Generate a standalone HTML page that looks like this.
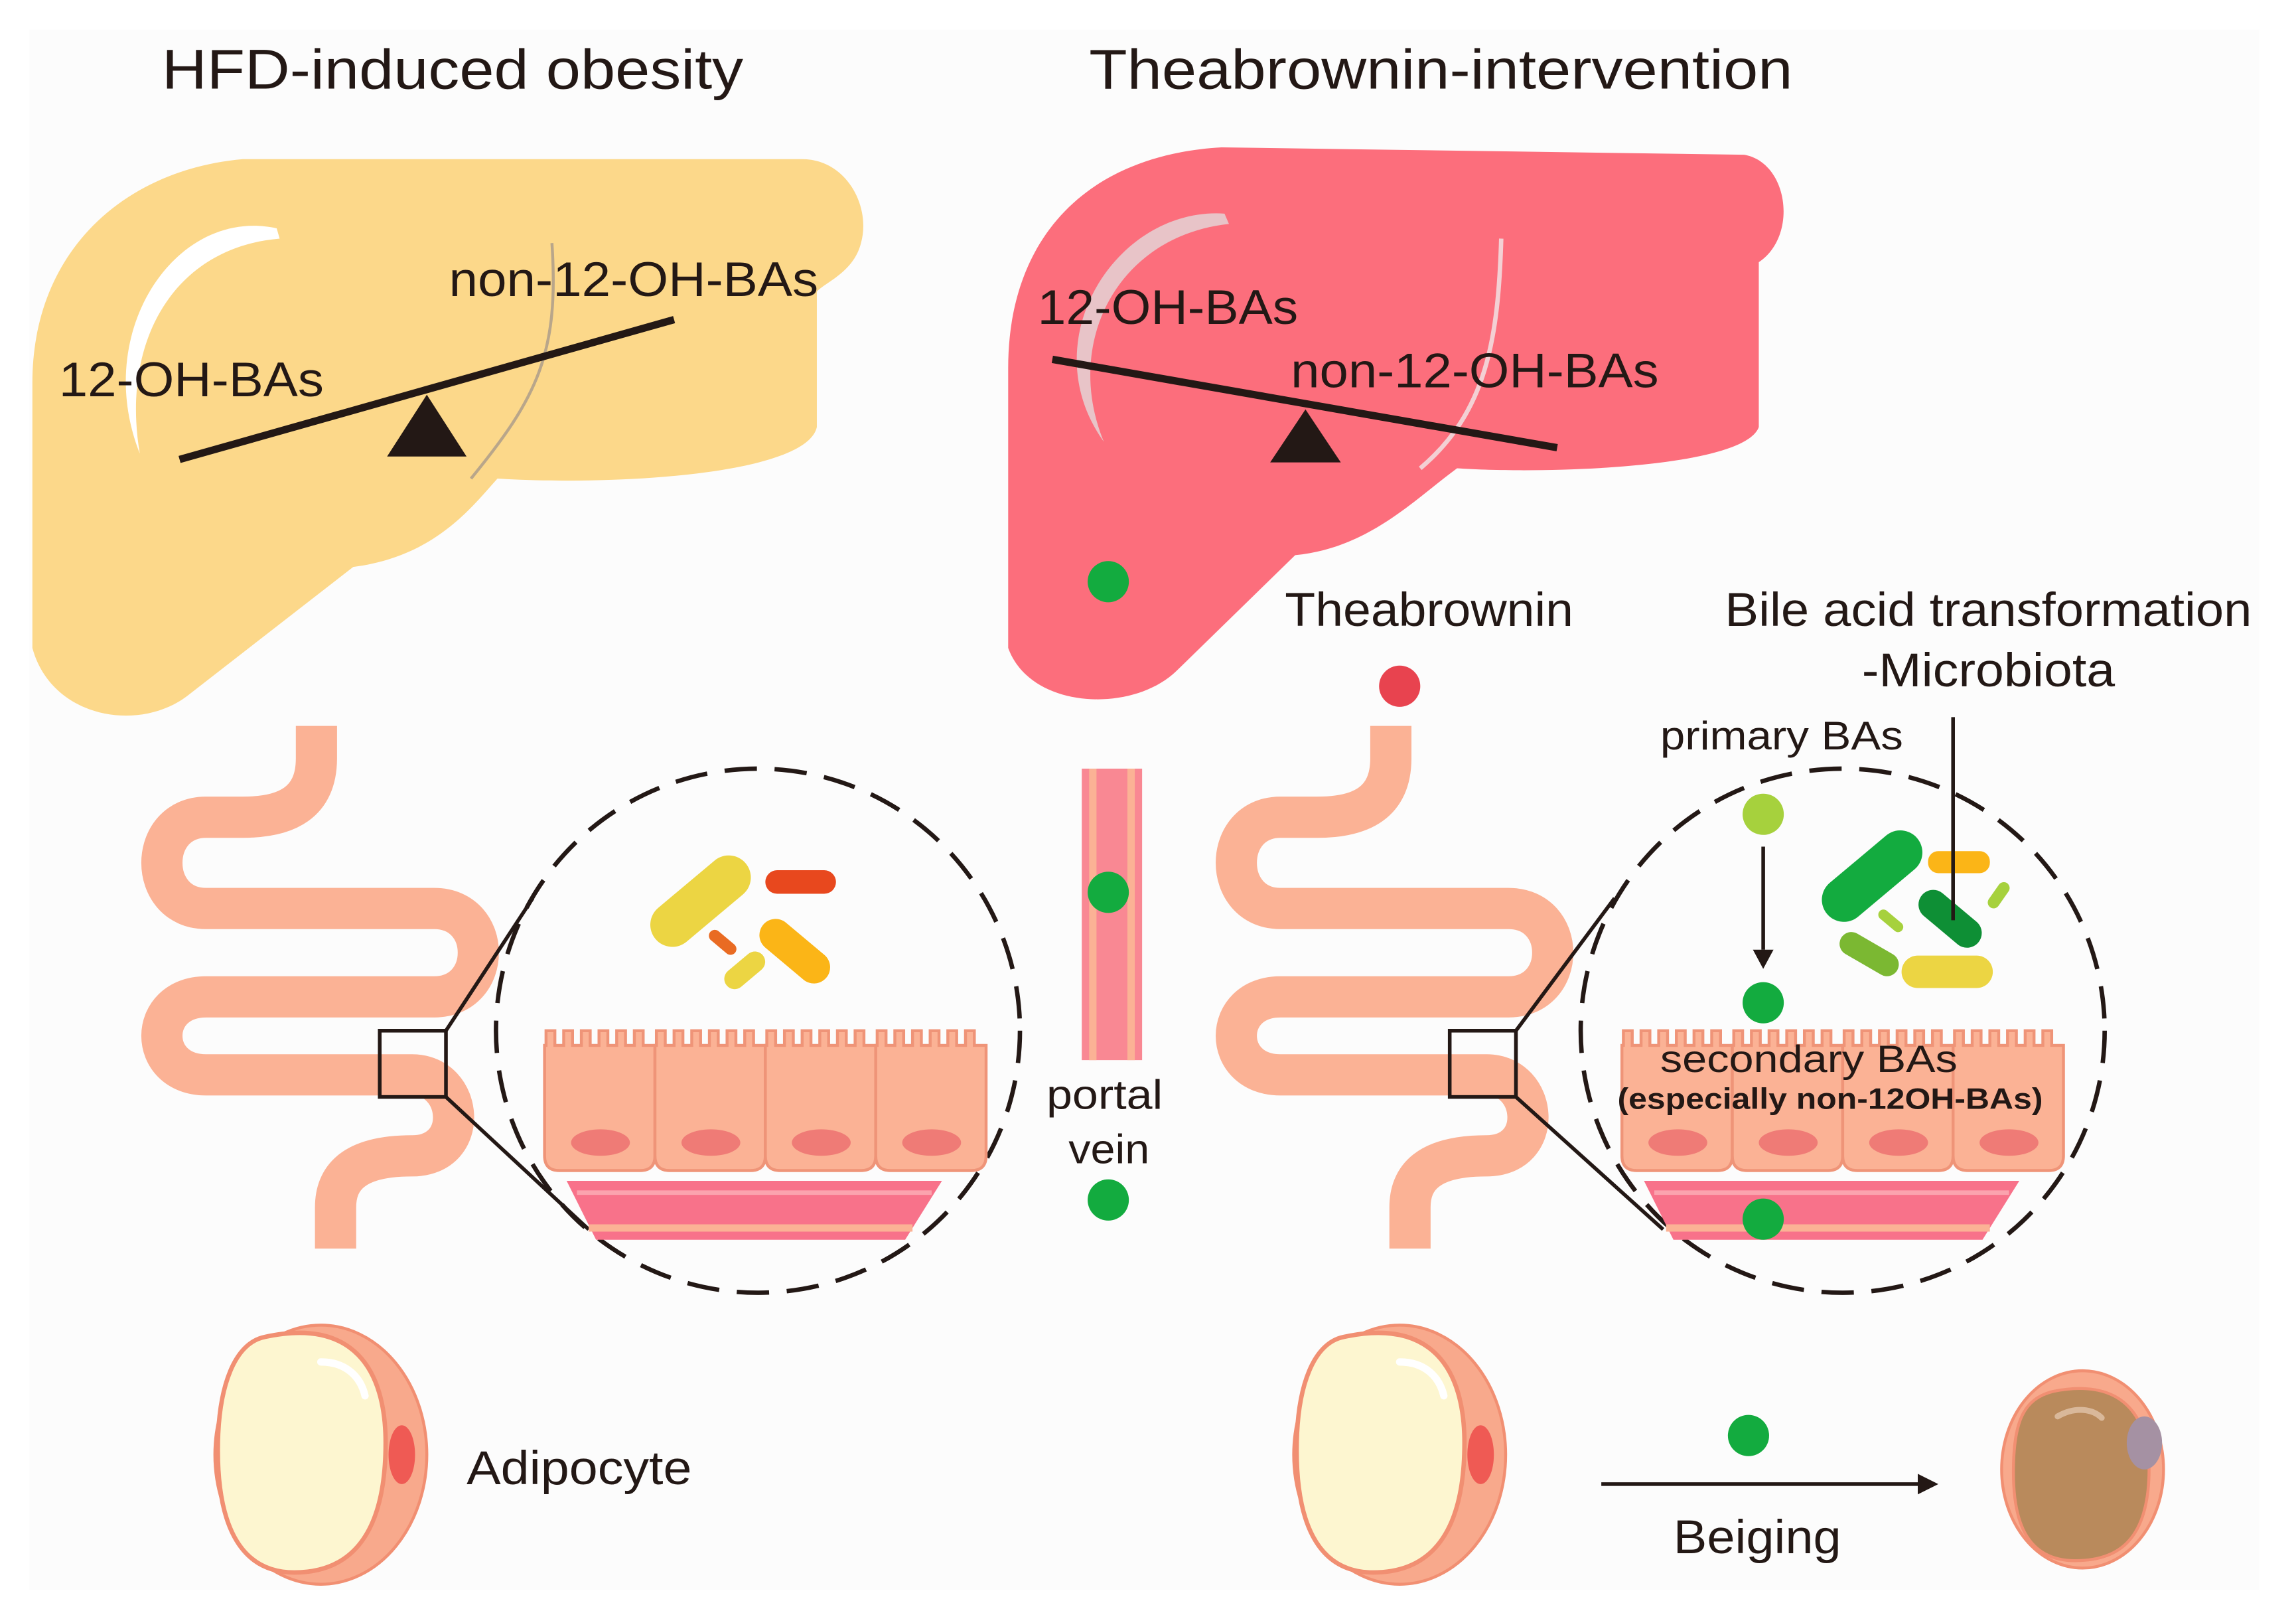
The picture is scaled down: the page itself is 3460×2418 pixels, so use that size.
<!DOCTYPE html>
<html><head><meta charset="utf-8"><style>
html,body{margin:0;padding:0;background:#fff}
svg{display:block}
text{font-family:"Liberation Sans",sans-serif;fill:#231815}
</style></head><body>
<svg width="3460" height="2418" viewBox="0 0 1560 1090" xmlns="http://www.w3.org/2000/svg">
<rect x="0" y="0" width="1560" height="1090" fill="#ffffff"/>
<rect x="20" y="20" width="1515" height="1060" fill="#fcfcfc"/>
<defs>
<g id="cells">
  <g fill="#fbb295" stroke="#ef9478" stroke-width="2">
    <path d="M370,710 l0,75 q0,10 10,10 h55 q10,0 10,-10 v-75 h-8 v-10 h-6 v10 h-6 v-10 h-6 v10 h-6 v-10 h-6 v10 h-6 v-10 h-6 v10 h-6 v-10 h-6 v10 h-6 v-10 h-6 v10 z"/>
    <path d="M445,710 l0,75 q0,10 10,10 h55 q10,0 10,-10 v-75 h-8 v-10 h-6 v10 h-6 v-10 h-6 v10 h-6 v-10 h-6 v10 h-6 v-10 h-6 v10 h-6 v-10 h-6 v10 h-6 v-10 h-6 v10 z"/>
    <path d="M520,710 l0,75 q0,10 10,10 h55 q10,0 10,-10 v-75 h-8 v-10 h-6 v10 h-6 v-10 h-6 v10 h-6 v-10 h-6 v10 h-6 v-10 h-6 v10 h-6 v-10 h-6 v10 h-6 v-10 h-6 v10 z"/>
    <path d="M595,710 l0,75 q0,10 10,10 h55 q10,0 10,-10 v-75 h-8 v-10 h-6 v10 h-6 v-10 h-6 v10 h-6 v-10 h-6 v10 h-6 v-10 h-6 v10 h-6 v-10 h-6 v10 h-6 v-10 h-6 v10 z"/>
  </g>
  <g fill="#ef7b76"><ellipse cx="408" cy="776" rx="20" ry="9"/><ellipse cx="483" cy="776" rx="20" ry="9"/><ellipse cx="558" cy="776" rx="20" ry="9"/><ellipse cx="633" cy="776" rx="20" ry="9"/></g>
  <path d="M385,802 H640 L615,842 H405 Z" fill="#f8728a"/>
  <path d="M392,810 H633" stroke="#fba3ae" stroke-width="3"/>
  <path d="M400,834 H620" stroke="#fbb295" stroke-width="5"/>
</g>
<g id="gut">
  <path d="M215,493 V515 C215,545 195,555 165,555 H140 C100,555 100,617 140,617 H295 C335,617 335,677 295,677 H140 C100,677 100,730 140,730 H280 C315,730 320,785 280,785 C240,785 228,800 228,820 V848" fill="none" stroke="#fbb295" stroke-width="28"/>
</g>
<g id="adipo">
  <ellipse cx="218" cy="988" rx="72" ry="88" fill="#f8a98c" stroke="#f18f72" stroke-width="2"/>
  <path d="M180,908 C240,895 262,930 262,980 C262,1040 240,1068 200,1068 C160,1068 148,1030 148,985 C148,940 160,912 180,908 Z" fill="#fdf6d0" stroke="#f18f72" stroke-width="3"/>
  <path d="M218,925 C235,925 245,935 248,948" stroke="#fff" stroke-width="5" fill="none" stroke-linecap="round"/>
  <ellipse cx="273" cy="988" rx="9" ry="20" fill="#ef5a54"/>
</g>
</defs>

<text x="110" y="60" font-size="38" textLength="395" lengthAdjust="spacingAndGlyphs">HFD-induced obesity</text>
<text x="740" y="60" font-size="38" textLength="478" lengthAdjust="spacingAndGlyphs">Theabrownin-intervention</text>

<!-- left liver -->
<path d="M22,430 L22,260 C22,170 85,115 165,108 L545,108 C575,108 592,140 585,165 C580,185 560,192 555,198 L555,290 C548,322 420,330 338,325 C320,345 295,378 240,385 L128,472 C95,498 35,488 22,440 Z" fill="#fcd88a"/>
<path d="M188,155 C120,140 62,225 95,308 C82,232 118,168 190,162 Z" fill="#fff"/>
<path d="M375,165 C380,240 365,270 320,325" stroke="#b9a68a" stroke-width="2" fill="none"/>
<line x1="122" y1="312" x2="458" y2="217" stroke="#231815" stroke-width="5"/>
<polygon points="263,310 317,310 290,268" fill="#231815"/>
<text x="305" y="201" font-size="33" textLength="251" lengthAdjust="spacingAndGlyphs">non-12-OH-BAs</text>
<text x="40" y="269" font-size="33" textLength="180" lengthAdjust="spacingAndGlyphs">12-OH-BAs</text>

<!-- right liver -->
<path d="M685,440 L685,250 C685,160 740,105 830,100 L1185,105 C1215,110 1222,160 1195,178 L1195,290 C1185,318 1050,322 990,318 C960,340 930,372 880,377 L800,455 C770,485 700,482 685,440 Z" fill="#fc6e7c"/>
<path d="M832,145 C760,140 700,230 750,300 C722,232 760,160 835,152 Z" fill="#e8c4c8"/>
<path d="M1020,162 C1018,230 1010,280 965,318" stroke="#f3d0d4" stroke-width="3" fill="none"/>
<line x1="715" y1="244" x2="1058" y2="304" stroke="#231815" stroke-width="5"/>
<polygon points="863,314 911,314 887,278" fill="#231815"/>
<text x="705" y="220" font-size="33" textLength="177" lengthAdjust="spacingAndGlyphs">12-OH-BAs</text>
<text x="877" y="263" font-size="33" textLength="250" lengthAdjust="spacingAndGlyphs">non-12-OH-BAs</text>
<circle cx="753" cy="395" r="14" fill="#13ab3f"/>

<!-- left gut -->
<use href="#gut"/>
<rect x="258" y="700" width="45" height="45" fill="none" stroke="#231815" stroke-width="2.5"/>
<line x1="303" y1="700" x2="362" y2="610" stroke="#231815" stroke-width="2.5"/>
<line x1="303" y1="745" x2="400" y2="835" stroke="#231815" stroke-width="2.5"/>
<circle cx="515" cy="700" r="178" fill="none" stroke="#231815" stroke-width="3" stroke-dasharray="22,12"/>
<use href="#cells"/>
<g>
<rect x="436" y="597" width="80" height="30" rx="15" fill="#ecd543" transform="rotate(-40 476 612)"/>
<rect x="520" y="591" width="48" height="16" rx="8" fill="#e8481e"/>
<rect x="512" y="635" width="56" height="22" rx="11" fill="#fbb517" transform="rotate(40 540 646)"/>
<rect x="490" y="652" width="32" height="14" rx="7" fill="#ecd543" transform="rotate(-40 506 659)"/>
<rect x="480" y="636" width="22" height="8" rx="4" fill="#e96b23" transform="rotate(40 491 640)"/>
</g>

<!-- portal vein -->
<rect x="735" y="522" width="41" height="198" fill="#f98893"/>
<rect x="740" y="522" width="5" height="198" fill="#fbb295"/>
<rect x="766" y="522" width="5" height="198" fill="#fbb295"/>
<circle cx="753" cy="606" r="14" fill="#13ab3f"/>
<text x="711" y="753" font-size="28" textLength="79" lengthAdjust="spacingAndGlyphs">portal</text>
<text x="726" y="790" font-size="28" textLength="55" lengthAdjust="spacingAndGlyphs">vein</text>
<circle cx="753" cy="815" r="14" fill="#13ab3f"/>

<!-- right side -->
<text x="873" y="425" font-size="32" textLength="196" lengthAdjust="spacingAndGlyphs">Theabrownin</text>
<text x="1172" y="425" font-size="32" textLength="358" lengthAdjust="spacingAndGlyphs">Bile acid transformation</text>
<text x="1265" y="466" font-size="32" textLength="172" lengthAdjust="spacingAndGlyphs">-Microbiota</text>
<text x="1128" y="509" font-size="27" textLength="165" lengthAdjust="spacingAndGlyphs">primary BAs</text>
<circle cx="951" cy="466" r="14" fill="#e8434f"/>
<g transform="translate(730,0)"><use href="#gut"/></g>
<rect x="985" y="700" width="45" height="45" fill="none" stroke="#231815" stroke-width="2.5"/>
<line x1="1030" y1="700" x2="1097" y2="610" stroke="#231815" stroke-width="2.5"/>
<line x1="1030" y1="745" x2="1130" y2="835" stroke="#231815" stroke-width="2.5"/>
<circle cx="1252" cy="700" r="178" fill="none" stroke="#231815" stroke-width="3" stroke-dasharray="22,12"/>
<g transform="translate(732,0)"><use href="#cells"/></g>
<g>
<rect x="1232" y="580" width="80" height="30" rx="15" fill="#13ab3f" transform="rotate(-40 1272 595)"/>
<rect x="1310" y="578" width="42" height="15" rx="7" fill="#fbb517"/>
<rect x="1300" y="614" width="50" height="20" rx="10" fill="#0e8f35" transform="rotate(40 1325 624)"/>
<rect x="1248" y="640" width="44" height="16" rx="8" fill="#7bb832" transform="rotate(30 1270 648)"/>
<rect x="1292" y="649" width="62" height="22" rx="11" fill="#ecd543"/>
<rect x="1348" y="604" width="20" height="8" rx="4" fill="#a6d13d" transform="rotate(-55 1358 608)"/>
<rect x="1275" y="622" width="20" height="7" rx="3.5" fill="#a6d13d" transform="rotate(40 1285 625)"/>
</g>
<line x1="1327" y1="487" x2="1327" y2="625" stroke="#231815" stroke-width="2.5"/>
<circle cx="1198" cy="553" r="14" fill="#a6d13d"/>
<line x1="1198" y1="575" x2="1198" y2="645" stroke="#231815" stroke-width="2.5"/>
<polygon points="1191,645 1205,645 1198,658" fill="#231815"/>
<circle cx="1198" cy="681" r="14" fill="#13ab3f"/>
<text x="1128" y="728" font-size="26" textLength="202" lengthAdjust="spacingAndGlyphs">secondary BAs</text>
<text x="1099" y="753" font-size="20" font-weight="bold" textLength="289" lengthAdjust="spacingAndGlyphs">(especially non-12OH-BAs)</text>
<circle cx="1198" cy="828" r="14" fill="#13ab3f"/>

<!-- adipocytes -->
<use href="#adipo"/>
<text x="317" y="1008" font-size="32" textLength="153" lengthAdjust="spacingAndGlyphs">Adipocyte</text>
<g transform="translate(733,0)"><use href="#adipo"/></g>
<line x1="1088" y1="1008" x2="1305" y2="1008" stroke="#231815" stroke-width="2.5"/>
<polygon points="1303,1001 1317,1008 1303,1015" fill="#231815"/>
<circle cx="1188" cy="975" r="14" fill="#13ab3f"/>
<text x="1137" y="1055" font-size="32" textLength="114" lengthAdjust="spacingAndGlyphs">Beiging</text>
<ellipse cx="1415" cy="998" rx="55" ry="67" fill="#f8a98c" stroke="#f18f72" stroke-width="2"/>
<path d="M1395,945 C1445,935 1462,965 1460,1005 C1458,1045 1440,1060 1410,1060 C1375,1060 1368,1030 1368,1000 C1368,965 1375,950 1395,945 Z" fill="#b98a5c" stroke="#f18f72" stroke-width="2"/>
<path d="M1398,962 C1410,955 1422,957 1428,963" stroke="#d9b89a" stroke-width="4" fill="none" stroke-linecap="round"/>
<ellipse cx="1457" cy="980" rx="12" ry="18" fill="#a591a3"/>
</svg>
</body></html>
